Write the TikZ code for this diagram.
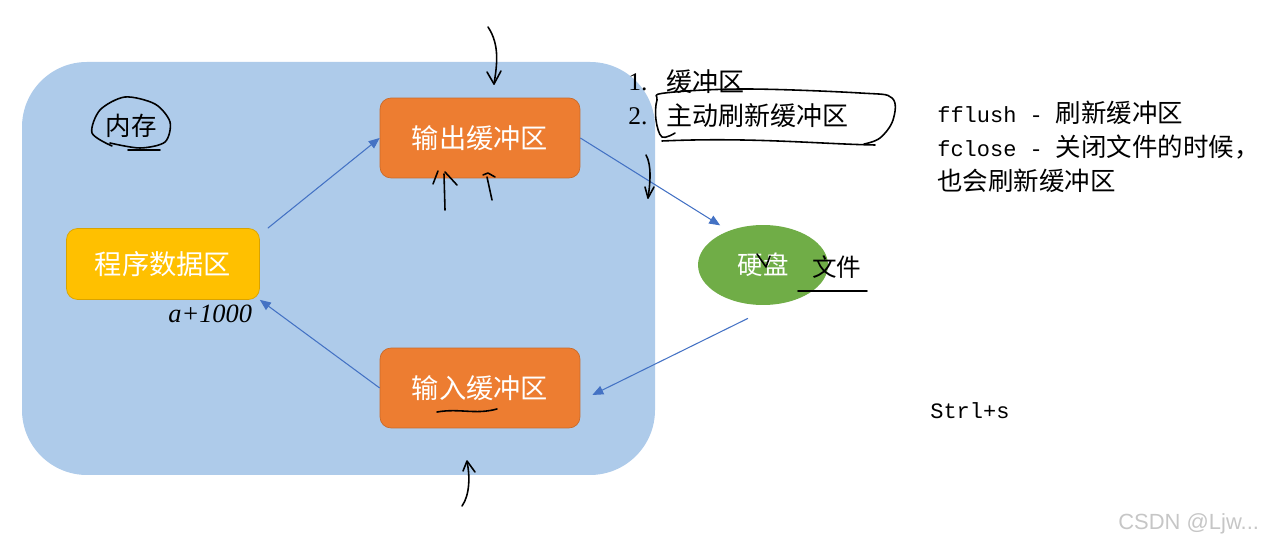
\documentclass[tikz,border=0pt]{standalone}
\usepackage{fontspec}
\setmainfont{Liberation Serif}
\setsansfont{Liberation Sans}
\setmonofont{Liberation Mono}
\newfontfamily\cjk{Noto Sans CJK SC}
\usetikzlibrary{arrows.meta,shapes.geometric}
\definecolor{memblue}{RGB}{174,203,234}
\definecolor{bufferorange}{RGB}{237,125,49}
\definecolor{progyellow}{RGB}{255,192,0}
\definecolor{diskgreen}{RGB}{112,173,71}
\definecolor{flowblue}{RGB}{68,114,196}

\begin{document}
\begin{tikzpicture}[x=0.02cm, y=-0.02cm,
        buffer/.style = {rectangle, rounded corners=0.22cm, draw=#1!85!black, fill=#1, text=white,
                         minimum width=4cm, minimum height=1.6cm, font=\cjk\fontsize{15.5}{17}\selectfont},
        txt/.style = {inner sep=0, anchor=west},
        pen/.style = {black, line width=0.9pt, line cap=round, line join=round},
        flow/.style = {->, draw=flowblue, line width=0.6pt},
        >={Triangle[length=2.2mm, width=1.8mm]}
        ]

        \useasboundingbox (0,0) rectangle (1270,546);
        % memory
        \fill[memblue, rounded corners=1.3cm] (22,62) rectangle (655,475);
        \node (mem) at (131,126) [font=\cjk\fontsize{14.5}{16}\selectfont] {内存};

        \node (out) at (480,138)  [buffer=bufferorange] {输出缓冲区};
        \node (in) at (480,388)   [buffer=bufferorange] {输入缓冲区};
        \node (prog) at (163,264) [buffer=progyellow, minimum width=3.86cm, minimum height=1.42cm] {程序数据区};
        \node (disk) at (763,265) [ellipse, fill=diskgreen, text=white, minimum width=2.6cm, minimum height=1.6cm,
                                   font=\cjk\fontsize{14.5}{16}\selectfont] {硬盘};
        \node (file) at (812,267) [txt, font=\cjk\fontsize{14}{16}\selectfont] {文件};

        \draw[flow] ([xshift=0.16cm]prog.north east) -- (out.west);
        \draw[flow, shorten >=0.2cm] (out.east) -- (disk.135);
        \draw[flow] ([xshift=-0.3cm, yshift=-0.26cm]disk.south) -- ([xshift=0.24cm, yshift=-0.14cm]in.east);
        \draw[flow] (in.west) -- (prog.south east);

        % notes
        \node (n1) at (628,82)  [txt, font=\fontsize{14.5}{16}\selectfont] {1.};
        \node (t1) at (666,82)  [txt, font=\cjk\fontsize{14.8}{16}\selectfont] {缓冲区};
        \node (n2) at (628,116) [txt, font=\fontsize{14.5}{16}\selectfont] {2.};
        \node (t2) at (666,116) [txt, font=\cjk\fontsize{14.8}{16}\selectfont] {主动刷新缓冲区};
        \node (fns) at (937,147) [txt, align=left, font=\fontsize{12.5}{19.4}\selectfont]
            {\ttfamily fflush - {\cjk\fontsize{14.5}{19.4}\selectfont 刷新缓冲区}\\
             \ttfamily fclose - {\cjk\fontsize{14.5}{19.4}\selectfont 关闭文件的时候，}\\
             {\cjk\fontsize{14.5}{19.4}\selectfont 也会刷新缓冲区}};
        \node (save) at (930,411) [txt, font=\ttfamily\fontsize{12.5}{14}\selectfont] {Strl+s};
        \node (addr) at (168,314) [txt, font=\itshape\fontsize{15}{16}\selectfont] {a+1000};
        \node (mark) at (1118,524) [txt, text=gray!45, font=\sffamily\fontsize{12.5}{14}\selectfont] {CSDN @Ljw...};

        % pen marks
        \draw[pen] plot[smooth] coordinates {(112,146) (92,133) (100,110) (125,97) (155,104) (170,122) (165,142) (140,148) (110,143)};
        \draw[pen] (128,150) -- (160,150);
        \draw[pen] plot[smooth, tension=0.6] coordinates {(675,133) (662,137) (656,120) (657,100) (665,93) (745,89) (860,93) (892,98) (893,120) (880,138) (864,144)};
        \draw[pen] (662,141) .. controls (750,137) and (820,144) .. (875,145);
        \draw[pen] (488,27) .. controls (500,45) and (497,65) .. (494,84);
        \draw[pen] (487,72) -- (494,84) -- (501,71);
        \draw[pen] (445,210) -- (444,174);
        \draw[pen] (438,171) -- (433,184);
        \draw[pen] (445,172) -- (457,185);
        \draw[pen] (487,177) .. controls (489,188) .. (492,200);
        \draw[pen] (483,175) -- (488,173) -- (495,177);
        \draw[pen] (646,155) .. controls (652,165) and (650,185) .. (648,198);
        \draw[pen] (645,187) -- (648,198) -- (654,187);
        \draw[pen] (467,462) .. controls (470,475) and (470,495) .. (462,506);
        \draw[pen] (463,471) -- (467,461) -- (475,472);
        \draw[pen] (437,412) .. controls (460,408) and (475,415) .. (497,409);
        \draw[pen] (757,254) -- (766,267) -- (770,256);
        \draw[pen] (798,291) -- (867,291);

    \end{tikzpicture}
\end{document}
